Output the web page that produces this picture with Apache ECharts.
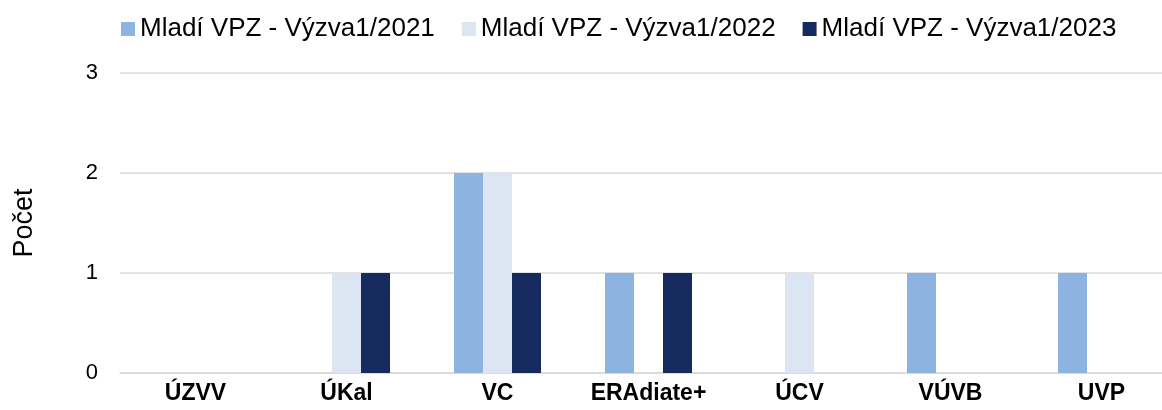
<!DOCTYPE html>
<html>
<head>
<meta charset="utf-8">
<script src="https://cdn.jsdelivr.net/npm/echarts@6/dist/echarts.min.js"></script>
<style>
	html, body { margin: 0; padding: 0; background: #fff; }
	#chart { width: 1162px; height: 410px; }
</style>
</head>
<body>
<div id="chart"></div>
<script>
var categories = ['ÚZVV', 'ÚKal', 'VC', 'ERAdiate+', 'ÚCV', 'VÚVB', 'UVP'];
var seriesNames = ['Mladí VPZ - Výzva1/2021', 'Mladí VPZ - Výzva1/2022', 'Mladí VPZ - Výzva1/2023'];
var data2021 = [0, 0, 2, 1, 0, 1, 1];
var data2022 = [0, 1, 2, 0, 1, 0, 0];
var data2023 = [0, 1, 1, 1, 0, 0, 0];
var yTicks = [0, 1, 2, 3];

var colors = ['#8DB3E0', '#DBE6F2', '#152B5D'];
var font = 'Arial, "Liberation Sans", sans-serif';

var myChart = echarts.init(document.getElementById('chart'));

var makeSeries = function(name, values, i) {
	return {
		name : name,
		type : 'bar',
		data : values,
		barWidth : 29,
		barGap : '0%',
		itemStyle : { color : colors[i] }
	};
};

var option = {
	animation : false,
	textStyle : { fontFamily : font },
	legend : {
		left : 116,
		top : 11,
		itemWidth : 14,
		itemHeight : 14,
		itemGap : 27,
		icon : 'rect',
		textStyle : { fontSize : 26, color : '#000', fontFamily : font },
		data : seriesNames
	},
	grid : {
		left : 120,
		right : -15,
		top : 73,
		bottom : 37,
		outerBoundsMode : 'none'
	},
	xAxis : {
		type : 'category',
		data : categories,
		axisLine : { lineStyle : { color : '#d9d9d9', width : 1.5 } },
		axisTick : { show : false },
		axisLabel : { color : '#000', fontSize : 23, fontWeight : 'bold', margin : 9, interval : 0, fontFamily : font }
	},
	yAxis : {
		type : 'value',
		min : yTicks[0],
		max : yTicks[yTicks.length - 1],
		interval : 1,
		name : 'Počet',
		nameLocation : 'middle',
		nameGap : 82,
		nameTextStyle : { fontSize : 27, color : '#000', fontFamily : font },
		axisLine : { show : false },
		axisTick : { show : false },
		axisLabel : { color : '#000', fontSize : 22, margin : 22, fontFamily : font },
		splitLine : { lineStyle : { color : '#d9d9d9', width : 1.5 } }
	},
	series : [
		makeSeries(seriesNames[0], data2021, 0),
		makeSeries(seriesNames[1], data2022, 1),
		makeSeries(seriesNames[2], data2023, 2)
	]
};
myChart.setOption(option);
</script>
</body>
</html>
